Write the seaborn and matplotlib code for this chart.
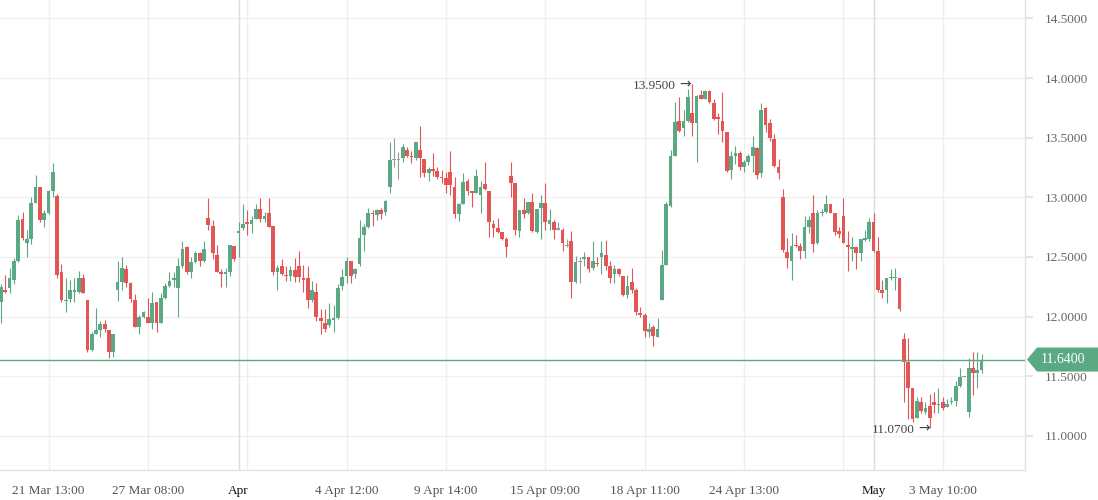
import numpy as np
import matplotlib
matplotlib.use("Agg")
import matplotlib.pyplot as plt
from matplotlib.patches import Polygon
import seaborn as sns
import pandas as pd

opens = [
    12.12, 12.22, 12.24, 12.31, 12.47, 12.82, 12.62, 12.65, 12.95, 13.09,
    12.81, 12.87, 13.05, 13.01, 12.37, 12.13, 12.15, 12.21, 12.21, 12.32,
    12.14, 11.72, 11.85, 11.89, 11.94, 11.89, 11.70, 12.22, 12.29, 12.40,
    12.28, 12.14, 11.91, 12.00, 12.00, 11.95, 12.12, 11.95, 12.16, 12.26,
    12.31, 12.24, 12.42, 12.58, 12.37, 12.46, 12.53, 12.47, 12.83, 12.76,
    12.52, 12.37, 12.36, 12.37, 12.59, 12.70, 12.74, 12.79, 12.78, 12.82,
    12.90, 12.82, 12.87, 12.76, 12.37, 12.42, 12.35, 12.34, 12.39, 12.42,
    12.32, 12.32, 12.14, 12.21, 11.99, 11.95, 11.93, 11.97, 11.99, 12.26,
    12.34, 12.47, 12.36, 12.44, 12.68, 12.75, 12.87, 12.85, 12.89, 12.88,
    13.09, 13.31, 13.31, 13.33, 13.40, 13.35, 13.33, 13.40, 13.32, 13.20,
    13.24, 13.22, 13.17, 13.16, 13.21, 13.09, 12.86, 12.94, 13.14, 13.05,
    13.04, 13.02, 13.11, 13.05, 12.78, 12.74, 12.71, 12.65, 13.18, 13.12,
    12.72, 12.89, 12.87, 12.96, 12.71, 12.91, 12.95, 12.78, 12.79, 12.73,
    12.73, 12.59, 12.63, 12.29, 12.46, 12.48, 12.50, 12.41, 12.45, 12.50,
    12.52, 12.42, 12.36, 12.40, 12.34, 12.18, 12.29, 12.22, 12.03, 12.01,
    11.87, 11.91, 11.83, 12.14, 12.43, 12.93, 13.35, 13.64, 13.58, 13.64,
    13.71, 13.62, 13.86, 13.82, 13.89, 13.79, 13.67, 13.64, 13.55, 13.23,
    13.35, 13.37, 13.25, 13.30, 13.35, 13.41, 13.20, 13.75, 13.62, 13.49,
    13.25, 13.00, 12.54, 12.47, 12.60, 12.59, 12.55, 12.75, 12.87, 12.62,
    12.87, 12.88, 12.94, 12.87, 12.72, 12.84, 12.60, 12.57, 12.58, 12.53,
    12.64, 12.65, 12.79, 12.55, 12.22, 12.22, 12.32, 12.32, 12.32, 11.81,
    11.62, 11.40, 11.15, 11.28, 11.20, 11.25, 11.28, 11.26, 11.28, 11.24,
    11.28, 11.29, 11.42, 11.49, 11.20, 11.57, 11.53, 11.55,
]
highs = [
    12.27, 12.35, 12.41, 12.49, 12.85, 12.88, 12.73, 13.00, 13.19, 13.09,
    12.89, 13.06, 13.29, 13.03, 12.44, 12.32, 12.31, 12.32, 12.38, 12.36,
    12.14, 11.87, 12.07, 11.96, 11.97, 11.89, 11.85, 12.47, 12.50, 12.43,
    12.29, 12.19, 12.01, 12.05, 12.16, 12.21, 12.12, 12.20, 12.28, 12.37,
    12.37, 12.49, 12.63, 12.59, 12.50, 12.55, 12.54, 12.63, 12.99, 12.81,
    12.60, 12.40, 12.41, 12.60, 12.59, 12.79, 12.94, 12.89, 12.84, 12.94,
    12.99, 12.88, 12.99, 12.76, 12.43, 12.48, 12.42, 12.42, 12.49, 12.55,
    12.43, 12.42, 12.30, 12.28, 12.06, 12.06, 12.11, 12.10, 12.27, 12.40,
    12.50, 12.47, 12.41, 12.81, 12.78, 12.91, 12.89, 12.90, 12.91, 12.98,
    13.46, 13.50, 13.38, 13.45, 13.42, 13.39, 13.46, 13.60, 13.32, 13.25,
    13.37, 13.25, 13.23, 13.21, 13.39, 13.17, 12.95, 13.20, 13.15, 13.05,
    13.24, 13.14, 13.30, 13.05, 12.81, 12.83, 12.71, 12.67, 13.30, 13.12,
    12.89, 12.99, 12.96, 13.04, 12.90, 13.02, 13.12, 12.90, 12.81, 12.79,
    12.74, 12.65, 12.72, 12.51, 12.50, 12.54, 12.50, 12.63, 12.50, 12.63,
    12.64, 12.47, 12.43, 12.41, 12.34, 12.35, 12.41, 12.24, 12.08, 12.03,
    11.95, 11.93, 11.99, 12.56, 12.96, 13.40, 13.80, 13.84, 13.73, 13.91,
    13.95, 13.86, 13.90, 13.90, 13.90, 13.82, 13.71, 13.88, 13.55, 13.39,
    13.43, 13.39, 13.31, 13.36, 13.51, 13.42, 13.79, 13.76, 13.66, 13.53,
    13.32, 13.07, 12.66, 12.70, 12.68, 12.62, 12.84, 12.84, 13.02, 12.89,
    12.90, 13.02, 12.94, 12.87, 12.75, 12.99, 12.72, 12.67, 12.58, 12.65,
    12.73, 12.83, 12.87, 12.67, 12.31, 12.32, 12.40, 12.41, 12.32, 11.86,
    11.82, 11.40, 11.33, 11.33, 11.28, 11.35, 11.37, 11.40, 11.33, 11.31,
    11.33, 11.46, 11.57, 11.50, 11.65, 11.70, 11.70, 11.69,
]
lows = [
    11.95, 12.20, 12.20, 12.27, 12.46, 12.64, 12.50, 12.61, 12.95, 12.79,
    12.75, 12.86, 13.00, 12.32, 12.12, 12.04, 12.12, 12.12, 12.20, 12.20,
    11.70, 11.71, 11.85, 11.83, 11.87, 11.65, 11.66, 12.13, 12.22, 12.25,
    12.12, 11.91, 11.85, 11.99, 11.95, 11.90, 11.87, 11.95, 12.15, 12.25,
    12.25, 12.00, 12.41, 12.36, 12.32, 12.45, 12.42, 12.46, 12.73, 12.48,
    12.37, 12.25, 12.25, 12.34, 12.47, 12.50, 12.73, 12.68, 12.70, 12.82,
    12.79, 12.79, 12.75, 12.35, 12.22, 12.35, 12.30, 12.30, 12.29, 12.29,
    12.21, 12.07, 12.12, 11.96, 11.85, 11.87, 11.91, 11.87, 11.98, 12.22,
    12.28, 12.28, 12.32, 12.42, 12.55, 12.74, 12.76, 12.81, 12.82, 12.85,
    13.04, 13.25, 13.15, 13.30, 13.34, 13.29, 13.31, 13.17, 13.17, 13.14,
    13.18, 13.15, 13.12, 13.04, 13.02, 12.83, 12.80, 12.94, 13.02, 12.92,
    13.04, 12.87, 13.06, 12.67, 12.67, 12.70, 12.64, 12.50, 13.00, 12.68,
    12.67, 12.83, 12.86, 12.71, 12.70, 12.65, 12.73, 12.73, 12.65, 12.73,
    12.55, 12.58, 12.16, 12.28, 12.28, 12.42, 12.37, 12.39, 12.42, 12.36,
    12.39, 12.28, 12.28, 12.34, 12.17, 12.16, 12.20, 12.01, 12.00, 11.83,
    11.83, 11.75, 11.83, 12.14, 12.43, 12.92, 13.35, 13.55, 13.51, 13.63,
    13.51, 13.30, 13.82, 13.82, 13.79, 13.65, 13.53, 13.46, 13.21, 13.15,
    13.28, 13.23, 13.21, 13.27, 13.21, 13.15, 13.17, 13.55, 13.47, 13.25,
    13.15, 12.54, 12.41, 12.31, 12.58, 12.48, 12.49, 12.70, 12.54, 12.61,
    12.84, 12.87, 12.87, 12.68, 12.66, 12.62, 12.38, 12.47, 12.40, 12.47,
    12.63, 12.63, 12.54, 12.21, 12.16, 12.11, 12.31, 12.22, 12.05, 11.28,
    11.14, 11.12, 11.15, 11.19, 11.18, 11.07, 11.19, 11.19, 11.22, 11.24,
    11.27, 11.25, 11.41, 11.49, 11.16, 11.34, 11.40, 11.53,
]
closes = [
    12.25, 12.21, 12.32, 12.47, 12.81, 12.66, 12.65, 12.95, 13.09, 12.81,
    12.87, 13.05, 13.21, 12.35, 12.14, 12.14, 12.22, 12.22, 12.32, 12.20,
    11.72, 11.85, 11.89, 11.94, 11.90, 11.70, 11.85, 12.29, 12.41, 12.28,
    12.15, 11.91, 12.00, 12.04, 11.95, 12.11, 11.95, 12.16, 12.26, 12.30,
    12.32, 12.42, 12.57, 12.37, 12.46, 12.53, 12.47, 12.57, 12.77, 12.53,
    12.37, 12.36, 12.37, 12.60, 12.48, 12.72, 12.78, 12.78, 12.81, 12.90,
    12.82, 12.84, 12.75, 12.37, 12.41, 12.36, 12.34, 12.39, 12.33, 12.33,
    12.31, 12.14, 12.22, 12.00, 11.96, 11.90, 11.98, 11.99, 12.24, 12.33,
    12.47, 12.34, 12.40, 12.66, 12.75, 12.87, 12.86, 12.89, 12.86, 12.97,
    13.31, 13.31, 13.31, 13.42, 13.35, 13.34, 13.46, 13.33, 13.20, 13.24,
    13.22, 13.17, 13.16, 13.10, 13.10, 12.86, 12.94, 13.13, 13.05, 13.04,
    13.18, 13.09, 13.07, 12.79, 12.74, 12.71, 12.65, 12.58, 13.12, 12.73,
    12.89, 12.86, 12.96, 12.72, 12.90, 12.95, 12.79, 12.81, 12.73, 12.73,
    12.62, 12.59, 12.29, 12.46, 12.46, 12.50, 12.40, 12.47, 12.44, 12.53,
    12.42, 12.32, 12.40, 12.36, 12.18, 12.26, 12.22, 12.04, 12.01, 11.88,
    11.90, 11.84, 11.90, 12.43, 12.94, 13.35, 13.63, 13.56, 13.64, 13.84,
    13.62, 13.85, 13.82, 13.89, 13.80, 13.66, 13.66, 13.56, 13.22, 13.35,
    13.37, 13.25, 13.30, 13.35, 13.42, 13.19, 13.73, 13.61, 13.50, 13.26,
    13.20, 12.56, 12.49, 12.59, 12.59, 12.55, 12.75, 12.81, 12.61, 12.87,
    12.88, 12.94, 12.87, 12.71, 12.69, 12.62, 12.58, 12.58, 12.53, 12.65,
    12.66, 12.79, 12.55, 12.22, 12.20, 12.32, 12.33, 12.33, 12.06, 11.62,
    11.40, 11.14, 11.29, 11.21, 11.23, 11.15, 11.26, 11.27, 11.23, 11.27,
    11.29, 11.42, 11.49, 11.49, 11.57, 11.53, 11.55, 11.64,
]

tick_positions = [11, 34, 55, 80, 103, 126, 149, 172, 202, 218]
tick_labels = ["21 Mar 13:00", "27 Mar 08:00", "Apr", "4 Apr 12:00", "9 Apr 14:00",
               "15 Apr 09:00", "18 Apr 11:00", "24 Apr 13:00", "May", "3 May 10:00"]
grid_positions = [11, 34, 57, 80, 103, 126, 149, 172, 195, 218]
month_positions = [55, 202]
price_ticks = [11.0, 11.5, 12.0, 12.5, 13.0, 13.5, 14.0, 14.5]
last_price = 11.64
high_label = "13.9500"
low_label = "11.0700"

UP = "#5aa884"
DOWN = "#e35656"
FLAT = "#9a9a9a"

sns.set_theme(style="white")
plt.rcParams['font.family'] = ['Liberation Serif', 'DejaVu Sans']

df = pd.DataFrame({"open": opens, "high": highs, "low": lows, "close": closes})
df["idx"] = np.arange(len(df))
df["color"] = np.where(df["close"] > df["open"], UP, np.where(df["close"] < df["open"], DOWN, FLAT))
df["bottom"] = df[["open", "close"]].min(axis=1)
df["height"] = (df["close"] - df["open"]).abs().clip(lower=0.009)

fig = plt.figure(figsize=(10.98, 5.0), dpi=100)
ax = fig.add_axes([0, 0.06, 1025 / 1098, 0.94])

# grid
for p in price_ticks:
    ax.axhline(p, color="#f0f0f0", lw=1, zorder=0)
for g in grid_positions:
    ax.axvline(g, color="#efefef", lw=1, zorder=0)
for m in month_positions:
    ax.axvline(m, color="#dcdcdc", lw=1, zorder=0)

# wicks and bodies
ax.vlines(df["idx"], df["low"], df["high"], colors=df["color"], lw=0.8, zorder=2)
ax.bar(df["idx"], df["height"], bottom=df["bottom"], width=0.86, color=df["color"],
       linewidth=0, zorder=3)

ax.axhline(last_price, color=UP, lw=1, zorder=4)

ax.set_xlim(-0.231, 237.04)
ax.set_ylim(10.714, 14.654)

for s in ["top", "left"]:
    ax.spines[s].set_visible(False)
for s in ["right", "bottom"]:
    ax.spines[s].set_color("#e2e2e2")
    ax.spines[s].set_linewidth(1)

ax.yaxis.tick_right()
ax.set_yticks(price_ticks)
ax.set_yticklabels([f"{v:.4f}" for v in price_ticks])
ax.tick_params(axis="y", length=6, color="#e2e2e2", labelcolor="#666666", labelsize=9.5, pad=8)

ax.set_xticks(tick_positions)
ax.set_xticklabels(tick_labels)
ax.tick_params(axis="x", length=6, color="#e2e2e2", labelcolor="#555555", labelsize=9.5, pad=5)
for lbl in ax.get_xticklabels():
    if lbl.get_text() in ("Apr", "May"):
        lbl.set_color("#111111")

ax.grid(False)

# high / low annotations (label + arrow)
ax.text(156.1, 13.935, high_label, ha="right", va="center", fontsize=9.5, color="#444444")
ax.text(159.7, 13.945, "→", ha="right", va="center", fontsize=10, color="#444444",
        family=["DejaVu Sans"])
ax.text(211.6, 11.05, low_label, ha="right", va="center", fontsize=9.5, color="#444444")
ax.text(215.1, 11.06, "→", ha="right", va="center", fontsize=10, color="#444444",
        family=["DejaVu Sans"])

# last price tag
fig.canvas.draw()
y_disp = ax.transData.transform((0, last_price))[1]
W, H = fig.get_size_inches() * fig.dpi
yf = y_disp / H
h = 12 / H
poly = Polygon([(1027 / W, yf), (1037 / W, yf + h), (1098 / W, yf + h), (1098 / W, yf - h),
                (1037 / W, yf - h)], closed=True, transform=fig.transFigure,
               facecolor=UP, edgecolor="none")
fig.patches.append(poly)
fig.text(1063 / W, yf, f"{last_price:.4f}", ha="center", va="center", color="white",
         fontsize=10, transform=fig.transFigure)

fig.savefig("out.png", dpi=100)
